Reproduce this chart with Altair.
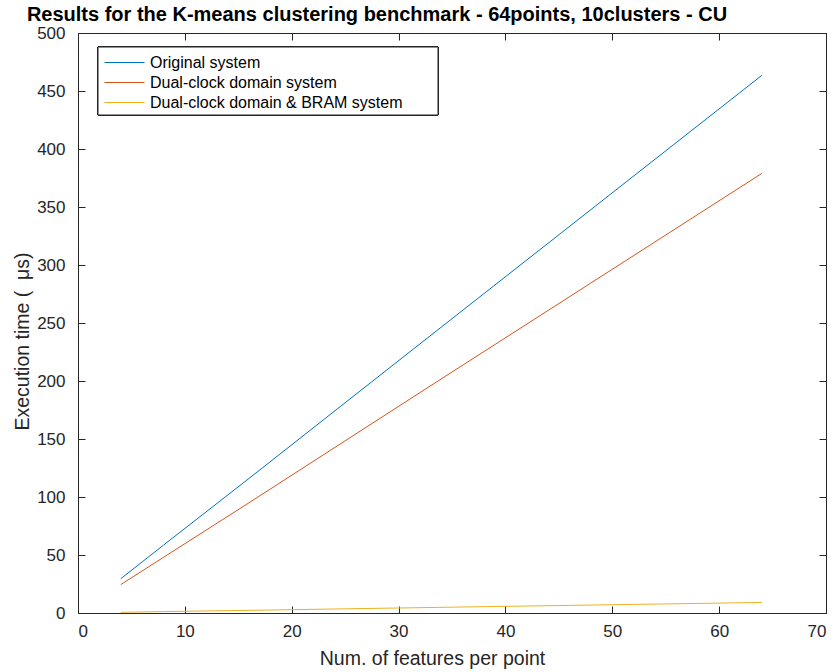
import altair as alt
import pandas as pd

features = [4, 8, 16, 32, 64]
original = [29.5, 58.5, 116.0, 232.0, 463.5]
dual_clock = [24.5, 48.0, 95.0, 190.0, 379.0]
dual_bram = [0.6, 1.2, 2.3, 4.6, 9.1]
series_names = ["Original system", "Dual-clock domain system", "Dual-clock domain & BRAM system"]
colors = ["#0072BD", "#D95319", "#EDB120"]
x_ticks = [0, 10, 20, 30, 40, 50, 60, 70]
y_ticks = [0, 50, 100, 150, 200, 250, 300, 350, 400, 450, 500]

rows = []
for name, vals in zip(series_names, [original, dual_clock, dual_bram]):
    for f, v in zip(features, vals):
        rows.append({"features": f, "time": v, "series": name})
df = pd.DataFrame(rows)

W, H = 748, 580
AX = "#262626"
FONT = "Liberation Sans"
NB = "\u00a0"

xs = alt.Scale(domain=[0, 70], nice=False, zero=False)
ys = alt.Scale(domain=[0, 500], nice=False, zero=False)

def ax(orient, labels, values, pad=2, **extra):
    kw = dict(orient=orient, values=values, grid=False, domainColor=AX, tickColor=AX,
              tickSize={"expr": "-7"}, labelColor=AX, labelFont=FONT, labelFontSize=17,
              domainWidth=1, tickWidth=1, labels=labels, labelPadding=pad)
    if "title" in extra:
        kw.update(titleFont=FONT, titleFontSize=19.5, titleFontWeight="normal",
                  titleColor=AX, titleBaseline="middle", titleAlign="center")
    else:
        kw.update(title=None)
    kw.update(extra)
    return alt.Axis(**kw)

legend_box = alt.Chart(df).mark_rect(fill="white", stroke=AX, strokeWidth=1).encode(
    x=alt.value(20), x2=alt.value(360), y=alt.value(14), y2=alt.value(82)
)

lines = alt.Chart(df).mark_line(strokeWidth=1, clip=True).encode(
    x=alt.X("features:Q", scale=xs,
            axis=ax("bottom", True, x_ticks, pad=17, title="Num. of features per point",
                    titleX=354, titleY=45)),
    y=alt.Y("time:Q", scale=ys,
            axis=ax("left", True, y_ticks, pad=20,
                    title="Execution time (" + NB * 2 + "μs)",
                    titleX=-56, titleY=308, titleAngle=270)),
    color=alt.Color("series:N", scale=alt.Scale(domain=series_names, range=colors),
                    sort=series_names,
                    legend=alt.Legend(orient="none", legendX=36, legendY=19, title=None,
                                      symbolType="M-2,0H2", symbolSize=400, symbolStrokeWidth=1,
                                      labelFont=FONT, labelFontSize=16, labelColor="#000000",
                                      rowPadding=1, padding=0, labelOffset=15,
                                      labelLimit=400)),
)

frame = alt.Chart(df).mark_point(opacity=0).encode(
    x=alt.X("features:Q", scale=xs, axis=ax("top", False, x_ticks)),
    y=alt.Y("time:Q", scale=ys, axis=ax("right", False, y_ticks)),
)

chart = alt.layer(frame, legend_box, lines).resolve_axis(
    x="independent", y="independent"
).properties(
    width=W, height=H,
    title=alt.TitleParams(
        "Results for the K-means clustering benchmark - 64points, 10clusters - CU",
        anchor="middle", dx=-75, dy=1, font=FONT, fontSize=20, fontWeight="bold",
        color="#000000", offset=0,
    ),
    autosize=alt.AutoSizeParams(type="none"),
    padding={"left": 78, "top": 33, "right": 13, "bottom": 59},
).configure_view(stroke=None).configure(background="white")

chart.save("out.html", embed_options={"renderer": "svg", "actions": False})
